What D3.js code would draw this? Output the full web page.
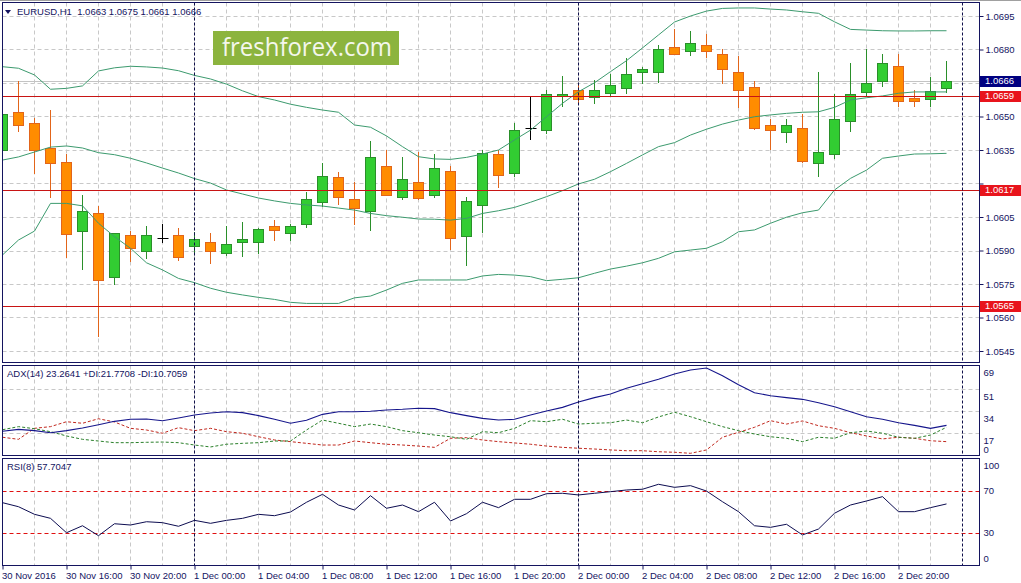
<!DOCTYPE html>
<html>
<head>
<meta charset="utf-8">
<script src="https://cdn.jsdelivr.net/npm/d3@7"></script>
<style>
  body { margin: 0; background: #fff; }
  svg { display: block; font-family: "Liberation Sans", Arial, sans-serif; }
</style>
</head>
<body>
<div id="chart"></div>
<script>
const width = 1021
const height = 583

// hourly bars, 30 Nov 12:00 .. 2 Dec 23:00
const open = [1.06347,1.06519,1.06469,1.06357,1.06298,1.05990,1.06066,1.05780,1.05968,1.05895,
  1.05957,1.05968,1.05919,1.05937,1.05887,1.05935,1.05937,1.06008,1.05977,1.06017,
  1.06118,1.06228,1.06129,1.06080,1.06278,1.06138,1.06208,1.06147,1.06257,1.05966,
  1.06107,1.06332,1.06248,1.06447,1.06436,1.06589,1.06619,1.06589,1.06607,1.06629,
  1.06698,1.06698,1.06810,1.06790,1.06819,1.06778,1.06698,1.06631,1.06461,1.06429,
  1.06447,1.06290,1.06331,1.06477,1.06607,1.06659,1.06727,1.06581,1.06581,1.06630]
const high = [1.06551,1.06659,1.06492,1.06529,1.06332,1.06148,1.06099,1.05980,1.05989,1.06010,
  1.06017,1.05999,1.05984,1.05980,1.06010,1.06028,1.06000,1.06035,1.06017,1.06160,
  1.06290,1.06251,1.06208,1.06390,1.06350,1.06320,1.06340,1.06332,1.06278,1.06138,
  1.06350,1.06350,1.06469,1.06589,1.06619,1.06681,1.06641,1.06663,1.06690,1.06761,
  1.06723,1.06820,1.06890,1.06883,1.06869,1.06801,1.06771,1.06659,1.06489,1.06489,
  1.06510,1.06701,1.06599,1.06741,1.06801,1.06780,1.06780,1.06619,1.06675,1.06750]
const low = [1.06341,1.06436,1.06248,1.06138,1.05869,1.05816,1.05517,1.05748,1.05854,1.05868,
  1.05938,1.05857,1.05895,1.05845,1.05878,1.05877,1.05887,1.05947,1.05948,1.06006,
  1.06099,1.06107,1.06017,1.05993,1.06148,1.06130,1.06130,1.06138,1.05908,1.05836,
  1.05981,1.06186,1.06235,1.06398,1.06427,1.06547,1.06559,1.06559,1.06596,1.06607,
  1.06649,1.06656,1.06778,1.06775,1.06768,1.06649,1.06541,1.06444,1.06355,1.06387,
  1.06296,1.06235,1.06315,1.06436,1.06596,1.06638,1.06547,1.06547,1.06547,1.06610]
const close = [1.06510,1.06461,1.06347,1.06290,1.05977,1.06078,1.05768,1.05977,1.05908,1.05968,
  1.05957,1.05869,1.05950,1.05896,1.05928,1.05950,1.05997,1.05990,1.06008,1.06129,
  1.06235,1.06138,1.06087,1.06320,1.06148,1.06219,1.06138,1.06268,1.05959,1.06122,
  1.06338,1.06238,1.06439,1.06447,1.06599,1.06599,1.06580,1.06619,1.06641,1.06690,
  1.06711,1.06801,1.06778,1.06828,1.06790,1.06711,1.06619,1.06447,1.06438,1.06461,
  1.06298,1.06340,1.06487,1.06599,1.06649,1.06738,1.06569,1.06569,1.06615,1.06660]

const bbUpper = [1.06723,1.06716,1.06686,1.06622,1.06626,1.06637,1.06704,1.06718,1.06725,1.06722,
  1.06717,1.06705,1.06684,1.06668,1.06645,1.06615,1.06589,1.06574,1.06555,1.06541,
  1.06529,1.06519,1.06462,1.06452,1.06413,1.06365,1.06320,1.06310,1.06308,1.06317,
  1.06332,1.06350,1.06395,1.06439,1.06499,1.06559,1.06611,1.06651,1.06701,1.06750,
  1.06807,1.06865,1.06923,1.06950,1.06972,1.06984,1.06986,1.06986,1.06981,1.06977,
  1.06969,1.06962,1.06924,1.06890,1.06887,1.06884,1.06883,1.06883,1.06884,1.06884]
const bbMiddle = [1.06305,1.06319,1.06341,1.06363,1.06368,1.06359,1.06338,1.06329,1.06313,1.06292,
  1.06269,1.06247,1.06222,1.06202,1.06171,1.06153,1.06135,1.06122,1.06111,1.06104,
  1.06099,1.06090,1.06081,1.06066,1.06056,1.06049,1.06041,1.06040,1.06036,1.06044,
  1.06066,1.06078,1.06093,1.06116,1.06141,1.06168,1.06198,1.06219,1.06253,1.06290,
  1.06328,1.06365,1.06383,1.06417,1.06443,1.06466,1.06484,1.06499,1.06507,1.06514,
  1.06519,1.06521,1.06541,1.06574,1.06584,1.06592,1.06604,1.06610,1.06610,1.06610]
const bbLower = [1.05880,1.05947,1.05987,1.06111,1.06111,1.06100,1.06022,1.05962,1.05910,1.05845,
  1.05813,1.05775,1.05756,1.05731,1.05713,1.05701,1.05690,1.05681,1.05668,1.05663,
  1.05663,1.05663,1.05688,1.05696,1.05723,1.05753,1.05768,1.05768,1.05768,1.05768,
  1.05786,1.05793,1.05790,1.05783,1.05765,1.05771,1.05778,1.05798,1.05817,1.05830,
  1.05845,1.05865,1.05894,1.05902,1.05910,1.05939,1.05984,1.05992,1.06022,1.06049,
  1.06069,1.06081,1.06171,1.06223,1.06260,1.06313,1.06323,1.06332,1.06333,1.06335]

const adx = [18.7,20.2,19.2,17.6,19.2,21.3,23.8,26.4,28.0,28.2,26.9,29.0,31.3,32.8,33.8,33.1,30.8,28.0,24.9,27.2,
  31.8,33.8,33.8,34.2,35.2,35.7,36.5,36.2,33.1,30.8,28.7,27.4,28.0,31.3,34.4,37.2,41.3,44.7,47.5,51.9,
  55.5,58.9,63.0,66.1,67.6,61.7,54.7,48.5,46.2,44.7,43.4,40.8,37.7,33.8,30.0,28.0,25.3,23.3,21.0,23.26]
const plusDI = [19.9,22.3,20.7,18.4,15.1,12.5,11.2,9.9,9.9,10.2,10.4,9.9,8.1,6.6,8.7,9.4,9.9,11.2,11.2,19.7,
  27.4,24.9,22.3,24.3,22.3,19.2,17.6,15.8,14.5,12.5,18.4,17.6,21.0,26.9,26.1,28.0,24.3,24.9,25.3,27.4,
  25.3,29.8,33.4,30.0,26.1,22.3,19.2,16.6,14.5,13.3,10.7,14.1,13.3,17.6,18.9,17.2,14.1,13.3,15.8,21.77]
const minusDI = [14.1,12.5,21.0,22.3,26.1,24.9,28.4,25.9,21.0,19.7,17.2,21.5,19.2,21.0,18.4,17.2,14.5,12.0,10.7,9.4,
  8.1,8.1,11.2,9.9,8.7,8.1,7.3,6.3,13.3,13.8,12.0,10.7,9.7,8.7,7.3,6.3,5.6,5.0,4.3,3.7,
  3.7,2.9,2.5,1.7,4.3,14.1,17.9,21.8,26.9,24.3,26.7,23.0,21.0,17.6,15.1,12.8,14.1,13.3,11.4,10.71]
const rsi = [58.9,55.1,47.9,44.1,30.5,37.1,27.7,39.0,37.8,40.9,40.0,36.6,42.2,39.4,42.2,44.1,47.9,46.6,50.1,59.3,
  66.8,56.7,52.0,65.5,53.6,56.7,50.4,59.3,41.6,48.5,59.3,54.2,62.1,62.1,67.4,67.8,66.2,67.8,69.3,70.9,
  71.6,76.3,73.4,75.0,69.9,59.8,50.4,37.1,35.6,38.5,28.4,34.0,48.9,56.7,60.5,64.6,50.4,50.4,54.2,57.70]

const timeLabels = ["30 Nov 2016","30 Nov 16:00","30 Nov 20:00","1 Dec 00:00","1 Dec 04:00","1 Dec 08:00",
  "1 Dec 12:00","1 Dec 16:00","1 Dec 20:00","2 Dec 00:00","2 Dec 04:00","2 Dec 08:00","2 Dec 12:00",
  "2 Dec 16:00","2 Dec 20:00"]
const timeLabelBars = [0,4,8,12,16,20,24,28,32,36,40,44,48,52,56]
const dayStarts = [12, 36, 60]
const priceTicks = [1.0545,1.0560,1.0575,1.0590,1.0605,1.0620,1.0635,1.0650,1.0665,1.0680,1.0695]
const levels = [1.0659, 1.0617, 1.0565]
const bid = 1.0666
const adxTicks = [69, 51, 34, 17, 0]
const adxGrid = [51, 34, 17]
const rsiTicks = [100, 70, 30, 0]
const rsiLevels = [70, 30]

const left = 2.5, right = 979.5
const main = {top: 2.5, bottom: 362.5}
const adxP = {top: 365.5, bottom: 455.5}
const rsiP = {top: 458.5, bottom: 565.5}

const navy = "#14145f"
const gridCol = "#c8c8c8"

const x = d3.scaleLinear().domain([0, 60]).range([2.5, 962.5])
const y = d3.scaleLinear().domain([1.0545, 1.0695]).range([351, 16])
const yAdx = d3.scaleLinear().domain([0, 69]).range([455.5, 366.2])
const yRsi = d3.scaleLinear().domain([0, 100]).range([565, 459.2])

const svg = d3.select("#chart").append("svg")
  .attr("width", width).attr("height", height)

const defs = svg.append("defs")
;[["clipMain", main], ["clipAdx", adxP], ["clipRsi", rsiP]].forEach(([id, p]) => {
  defs.append("clipPath").attr("id", id).append("rect")
    .attr("x", left).attr("y", p.top).attr("width", right - left).attr("height", p.bottom - p.top)
})

svg.append("line").attr("x1", 0).attr("x2", width).attr("y1", 0.5).attr("y2", 0.5)
  .attr("stroke", "#a0a0a0")

// vertical grid in all panels
const gridBars = d3.range(2, 60, 2)
;[main, adxP, rsiP].forEach(p => {
  svg.append("g").selectAll("line").data(gridBars).enter().append("line")
    .attr("x1", d => x(d)).attr("x2", d => x(d))
    .attr("y1", p.top).attr("y2", p.bottom)
    .attr("stroke", gridCol).attr("stroke-dasharray", "4,3")
})

// horizontal grid
svg.append("g").selectAll("line").data(priceTicks).enter().append("line")
  .attr("x1", left).attr("x2", right)
  .attr("y1", d => Math.round(y(d)) + 0.5).attr("y2", d => Math.round(y(d)) + 0.5)
  .attr("stroke", gridCol).attr("stroke-dasharray", "4,3")
svg.append("g").selectAll("line").data(adxGrid).enter().append("line")
  .attr("x1", left).attr("x2", right)
  .attr("y1", d => Math.round(yAdx(d)) + 0.5).attr("y2", d => Math.round(yAdx(d)) + 0.5)
  .attr("stroke", gridCol).attr("stroke-dasharray", "4,3")

// watermark
svg.append("rect").attr("x", 213).attr("y", 31).attr("width", 186).attr("height", 34)
  .attr("fill", "#8cb43e")
svg.append("text").attr("x", 222).attr("y", 56)
  .attr("textLength", 170).attr("lengthAdjust", "spacingAndGlyphs")
  .style("font-family", "'Open Sans', sans-serif").style("font-size", "25px")
  .attr("fill", "#f4f7ec").text("freshforex.com")

// bid line
svg.append("line").attr("x1", left).attr("x2", right)
  .attr("y1", Math.round(y(bid)) + 0.5).attr("y2", Math.round(y(bid)) + 0.5)
  .attr("stroke", "#c4c4c4")

// candles
const bars = d3.range(open.length).map(i => ({i, o: open[i], h: high[i], l: low[i], c: close[i]}))
const kind = d => d.c > d.o ? "up" : (d.c < d.o ? "down" : "doji")
const wickCol = {up: "#2a8f2a", down: "#e2651a", doji: "#000"}
const bodyFill = {up: "#32cd32", down: "#ff8c00", doji: "#000"}
const gMain = svg.append("g").attr("clip-path", "url(#clipMain)")
const candle = gMain.selectAll(".candle").data(bars).enter().append("g").attr("class", "candle")
candle.append("line")
  .attr("x1", d => x(d.i)).attr("x2", d => x(d.i))
  .attr("y1", d => Math.round(y(d.h))).attr("y2", d => Math.round(y(d.l)) + 1)
  .attr("stroke", d => wickCol[kind(d)])
candle.filter(d => kind(d) !== "doji").append("rect")
  .attr("x", d => x(d.i) - 5)
  .attr("y", d => Math.round(y(Math.max(d.o, d.c))) + 0.5)
  .attr("width", 10)
  .attr("height", d => Math.max(2, Math.round(Math.abs(y(d.o) - y(d.c)))))
  .attr("fill", d => bodyFill[kind(d)])
  .attr("stroke", d => wickCol[kind(d)])
candle.filter(d => kind(d) === "doji").append("line")
  .attr("x1", d => x(d.i) - 5).attr("x2", d => x(d.i) + 6)
  .attr("y1", d => Math.round(y(d.o)) + 0.5).attr("y2", d => Math.round(y(d.o)) + 0.5)
  .attr("stroke", "#000")

// bollinger bands
const bandLine = d3.line().x((d, i) => x(i)).y(d => y(d))
;[bbUpper, bbMiddle, bbLower].forEach(s => {
  gMain.append("path").datum(s).attr("d", bandLine)
    .attr("fill", "none").attr("stroke", "#3c9a6e").attr("stroke-width", 1)
})

// horizontal levels
gMain.selectAll(".lvl").data(levels).enter().append("line")
  .attr("x1", left).attr("x2", right)
  .attr("y1", d => Math.round(y(d)) + 0.5).attr("y2", d => Math.round(y(d)) + 0.5)
  .attr("stroke", "#c81414")

// ADX panel
const gAdx = svg.append("g").attr("clip-path", "url(#clipAdx)")
const adxLine = d3.line().x((d, i) => x(i)).y(d => yAdx(d))
gAdx.append("path").datum(minusDI).attr("d", adxLine).attr("fill", "none")
  .attr("stroke", "#c0281e").attr("stroke-dasharray", "3,2")
gAdx.append("path").datum(plusDI).attr("d", adxLine).attr("fill", "none")
  .attr("stroke", "#2a7f2a").attr("stroke-dasharray", "3,2")
gAdx.append("path").datum(adx).attr("d", adxLine).attr("fill", "none")
  .attr("stroke", "#16168c").attr("stroke-width", 1.1)

// RSI panel
const gRsi = svg.append("g").attr("clip-path", "url(#clipRsi)")
gRsi.selectAll(".lv").data(rsiLevels).enter().append("line")
  .attr("x1", left).attr("x2", right)
  .attr("y1", d => Math.round(yRsi(d)) + 0.5).attr("y2", d => Math.round(yRsi(d)) + 0.5)
  .attr("stroke", "#e01010").attr("stroke-dasharray", "4,3")
gRsi.append("path").datum(rsi)
  .attr("d", d3.line().x((d, i) => x(i)).y(d => yRsi(d)))
  .attr("fill", "none").attr("stroke", "#0c0c50")

// day separators
;[main, adxP, rsiP].forEach(p => {
  svg.append("g").selectAll("line").data(dayStarts).enter().append("line")
    .attr("x1", d => x(d)).attr("x2", d => x(d))
    .attr("y1", p.top).attr("y2", p.bottom)
    .attr("stroke", "#10104a").attr("stroke-dasharray", "3,2")
})

// frames
;[main, adxP, rsiP].forEach(p => {
  svg.append("rect").attr("x", left).attr("y", p.top)
    .attr("width", right - left).attr("height", p.bottom - p.top)
    .attr("fill", "none").attr("stroke", navy)
})

// axes
const styleAxis = g => {
  g.select(".domain").remove()
  g.selectAll(".tick line").attr("stroke", navy)
  g.selectAll("text").attr("fill", navy)
    .style("font-family", "'Liberation Sans', Arial, sans-serif").style("font-size", "9.5px")
}

// labels hidden behind the price boxes are left out, as in the terminal
const boxValues = [bid].concat(levels)
const freeTick = d => boxValues.every(b => Math.abs(y(b) - y(d)) > 9)
const priceAxis = svg.append("g").attr("transform", `translate(${right},0)`)
  .call(d3.axisRight(y).tickValues(priceTicks).tickSize(4).tickPadding(2)
    .tickFormat(d => freeTick(d) ? d3.format(".4f")(d) : ""))
  .call(styleAxis)

svg.append("g").attr("transform", `translate(${right},0)`)
  .call(d3.axisRight(yAdx).tickValues(adxTicks).tickSize(0).tickPadding(4).tickFormat(d3.format("d")))
  .call(styleAxis)
  .selectAll(".tick").attr("transform", d => `translate(0,${Math.min(yAdx(d) + 7, 449.5)})`)

svg.append("g").attr("transform", `translate(${right},0)`)
  .call(d3.axisRight(yRsi).tickValues(rsiTicks).tickSize(0).tickPadding(4).tickFormat(d3.format("d")))
  .call(styleAxis)
  .selectAll(".tick").attr("transform", d => `translate(0,${Math.max(466, Math.min(yRsi(d), 559))})`)

const xAxis = svg.append("g").attr("transform", `translate(0,${rsiP.bottom})`)
  .call(d3.axisBottom(x).tickValues(timeLabelBars).tickSize(4).tickPadding(3)
    .tickFormat((d, i) => timeLabels[i]))
  .call(styleAxis)
xAxis.selectAll("text").attr("text-anchor", "start").attr("dx", "-1")

// price boxes
const boxes = [{v: bid, fill: "#000080"}].concat(levels.map(v => ({v, fill: "#e8141c"})))
const box = svg.append("g").selectAll("g").data(boxes).enter().append("g")
box.append("rect").attr("x", 980).attr("width", 41)
  .attr("y", d => Math.round(y(d.v)) - 5).attr("height", 11)
  .attr("fill", d => d.fill)
box.append("text").attr("x", 985).attr("y", d => Math.round(y(d.v)) + 0.5)
  .attr("dominant-baseline", "middle").attr("fill", "#fff")
  .style("font-size", "9.5px").text(d => d.v.toFixed(4))

// headers
svg.append("path").attr("d", "M5,10 L11,10 L8,14 Z").attr("fill", navy)
svg.append("text").attr("x", 17).attr("y", 12).attr("dominant-baseline", "middle")
  .attr("fill", navy).style("font-size", "9.5px").attr("xml:space", "preserve")
  .text("EURUSD,H1  1.0663 1.0675 1.0661 1.0666")
svg.append("text").attr("x", 7).attr("y", 374.5).attr("dominant-baseline", "middle")
  .attr("fill", navy).style("font-size", "9.5px")
  .text("ADX(14) 23.2641 +DI:21.7708 -DI:10.7059")
svg.append("text").attr("x", 7).attr("y", 467.5).attr("dominant-baseline", "middle")
  .attr("fill", navy).style("font-size", "9.5px")
  .text("RSI(8) 57.7047")
</script>
</body>
</html>
